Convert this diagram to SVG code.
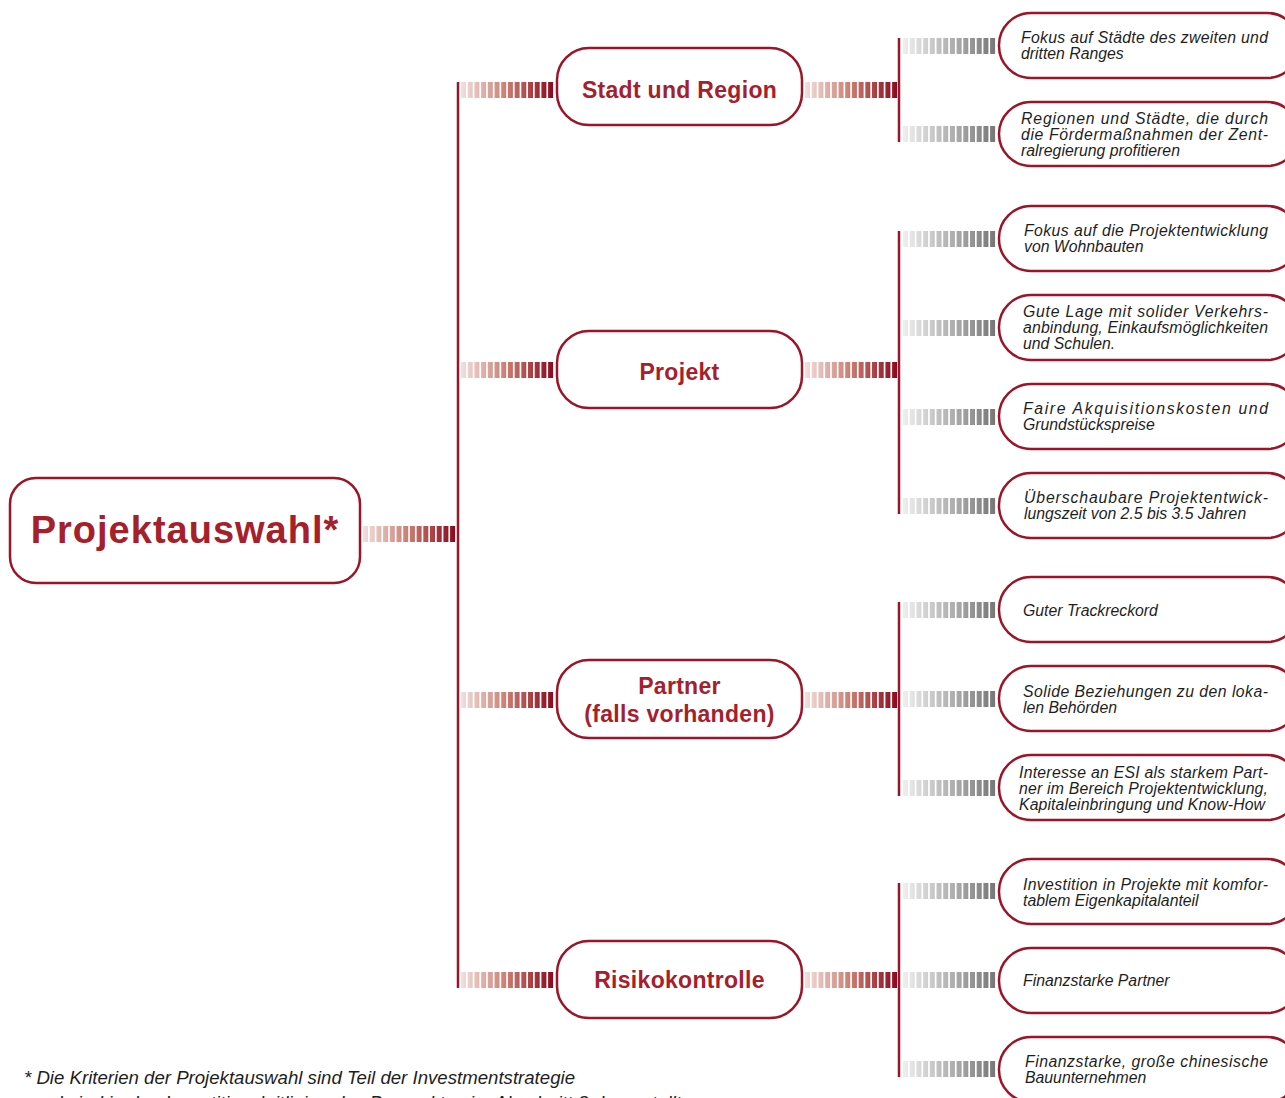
<svg xmlns="http://www.w3.org/2000/svg" xmlns:xlink="http://www.w3.org/1999/xlink" width="1285" height="1098" viewBox="0 0 1285 1098">
<style>
.box{fill:#fff;stroke:#9b1428;stroke-width:2.5}
.vline{stroke:#9b1428;stroke-width:2.5;fill:none}
.root{font-family:"Liberation Sans",Arial,sans-serif;font-weight:bold;font-size:38px;letter-spacing:1px;fill:#a6202c;text-anchor:middle}
.l1{font-family:"Liberation Sans",Arial,sans-serif;font-weight:bold;font-size:23px;letter-spacing:0.3px;fill:#a6202c;text-anchor:middle}
.leaf{font-family:"Liberation Sans",Arial,sans-serif;font-style:italic;font-size:15.8px;fill:#1e1e1e}
.foot{font-family:"Liberation Sans",Arial,sans-serif;font-style:italic;font-size:18.5px;fill:#1e1e1e}
</style>
<defs>
<linearGradient id="redG" x1="0" y1="0" x2="1" y2="0">
<stop offset="0" stop-color="#f2e0dc"/>
<stop offset="0.5" stop-color="#c97c70"/>
<stop offset="1" stop-color="#8c0a1e"/>
</linearGradient>
<linearGradient id="greyG" x1="0" y1="0" x2="1" y2="0">
<stop offset="0" stop-color="#efefef"/>
<stop offset="1" stop-color="#777777"/>
</linearGradient>
<path id="bars" d="M0,0h5v16h-5z m6.7,0h5v16h-5z m6.7,0h5v16h-5z m6.7,0h5v16h-5z m6.7,0h5v16h-5z m6.7,0h5v16h-5z m6.7,0h5v16h-5z m6.7,0h5v16h-5z m6.7,0h5v16h-5z m6.7,0h5v16h-5z m6.7,0h5v16h-5z m6.7,0h5v16h-5z m6.7,0h5v16h-5z m6.7,0h5v16h-5z"/>
</defs>
<rect width="1285" height="1098" fill="#fff"/>

<g id="connectors">
<use xlink:href="#bars" x="363" y="526" fill="url(#redG)"/>
<line class="vline" x1="458" y1="82" x2="458" y2="988"/>
<use xlink:href="#bars" x="461" y="82" fill="url(#redG)"/>
<use xlink:href="#bars" x="461" y="362" fill="url(#redG)"/>
<use xlink:href="#bars" x="461" y="692" fill="url(#redG)"/>
<use xlink:href="#bars" x="461" y="972" fill="url(#redG)"/>
<use xlink:href="#bars" x="805" y="82" fill="url(#redG)"/>
<use xlink:href="#bars" x="805" y="362" fill="url(#redG)"/>
<use xlink:href="#bars" x="805" y="692" fill="url(#redG)"/>
<use xlink:href="#bars" x="805" y="972" fill="url(#redG)"/>
<line class="vline" x1="899" y1="38" x2="899" y2="142"/>
<line class="vline" x1="899" y1="231" x2="899" y2="514"/>
<line class="vline" x1="899" y1="602" x2="899" y2="796"/>
<line class="vline" x1="899" y1="883" x2="899" y2="1077"/>
<use xlink:href="#bars" x="903" y="38" fill="url(#greyG)"/>
<use xlink:href="#bars" x="903" y="126" fill="url(#greyG)"/>
<use xlink:href="#bars" x="903" y="231" fill="url(#greyG)"/>
<use xlink:href="#bars" x="903" y="320" fill="url(#greyG)"/>
<use xlink:href="#bars" x="903" y="409" fill="url(#greyG)"/>
<use xlink:href="#bars" x="903" y="498" fill="url(#greyG)"/>
<use xlink:href="#bars" x="903" y="602" fill="url(#greyG)"/>
<use xlink:href="#bars" x="903" y="691" fill="url(#greyG)"/>
<use xlink:href="#bars" x="903" y="780" fill="url(#greyG)"/>
<use xlink:href="#bars" x="903" y="883" fill="url(#greyG)"/>
<use xlink:href="#bars" x="903" y="972" fill="url(#greyG)"/>
<use xlink:href="#bars" x="903" y="1061" fill="url(#greyG)"/>
</g>

<g id="root">
<rect class="box" x="10" y="478" width="350" height="105" rx="26"/>
<text class="root" x="185" y="543">Projektauswahl*</text>
</g>

<g id="stadt">
<rect class="box" x="557" y="48" width="245" height="77" rx="32"/>
<text class="l1" x="679.5" y="98">Stadt und Region</text>
</g>
<g id="projekt">
<rect class="box" x="557" y="331" width="245" height="77" rx="32"/>
<text class="l1" x="679.5" y="380">Projekt</text>
</g>
<g id="partner">
<rect class="box" x="557" y="660" width="245" height="78" rx="32"/>
<text class="l1" x="679.5" y="694">Partner</text>
<text class="l1" x="679.5" y="722">(falls vorhanden)</text>
</g>
<g id="risiko">
<rect class="box" x="557" y="941" width="245" height="77" rx="32"/>
<text class="l1" x="679.5" y="988">Risikokontrolle</text>
</g>

<g id="leaf1">
<rect class="box" x="999" y="13" width="300" height="65" rx="32"/>
<text class="leaf" x="1021" y="42.5" textLength="247" lengthAdjust="spacing">Fokus auf Städte des zweiten und</text>
<text class="leaf" x="1021" y="58.5">dritten Ranges</text>
</g>
<g id="leaf2">
<rect class="box" x="999" y="102" width="300" height="64" rx="32"/>
<text class="leaf" x="1021" y="123.5" textLength="247" lengthAdjust="spacing">Regionen und Städte, die durch</text>
<text class="leaf" x="1021" y="139.5" textLength="247" lengthAdjust="spacing">die Fördermaßnahmen der Zent-</text>
<text class="leaf" x="1021" y="155.5">ralregierung profitieren</text>
</g>
<g id="leaf3">
<rect class="box" x="999" y="206" width="300" height="65" rx="32"/>
<text class="leaf" x="1024" y="235.5" textLength="244" lengthAdjust="spacing">Fokus auf die Projektentwicklung</text>
<text class="leaf" x="1024" y="251.5">von Wohnbauten</text>
</g>
<g id="leaf4">
<rect class="box" x="999" y="295" width="300" height="65" rx="32"/>
<text class="leaf" x="1023" y="317" textLength="245" lengthAdjust="spacing">Gute Lage mit solider Verkehrs-</text>
<text class="leaf" x="1023" y="333" textLength="245" lengthAdjust="spacing">anbindung, Einkaufsmöglichkeiten</text>
<text class="leaf" x="1023" y="349">und Schulen.</text>
</g>
<g id="leaf5">
<rect class="box" x="999" y="384" width="300" height="65" rx="32"/>
<text class="leaf" x="1023" y="413.5" textLength="245" lengthAdjust="spacing">Faire Akquisitionskosten und</text>
<text class="leaf" x="1023" y="429.5">Grundstückspreise</text>
</g>
<g id="leaf6">
<rect class="box" x="999" y="473" width="300" height="65" rx="32"/>
<text class="leaf" x="1024" y="502.5" textLength="244" lengthAdjust="spacing">Überschaubare Projektentwick-</text>
<text class="leaf" x="1024" y="518.5">lungszeit von 2.5 bis 3.5 Jahren</text>
</g>
<g id="leaf7">
<rect class="box" x="999" y="577" width="300" height="65" rx="32"/>
<text class="leaf" x="1023" y="615.5">Guter Trackreckord</text>
</g>
<g id="leaf8">
<rect class="box" x="999" y="666" width="300" height="65" rx="32"/>
<text class="leaf" x="1023" y="696.5" textLength="245" lengthAdjust="spacing">Solide Beziehungen zu den loka-</text>
<text class="leaf" x="1023" y="712.5">len Behörden</text>
</g>
<g id="leaf9">
<rect class="box" x="999" y="755" width="300" height="65" rx="32"/>
<text class="leaf" x="1019" y="777.5" textLength="249" lengthAdjust="spacing">Interesse an ESI als starkem Part-</text>
<text class="leaf" x="1019" y="793.5" textLength="249" lengthAdjust="spacing">ner im Bereich Projektentwicklung,</text>
<text class="leaf" x="1019" y="809.5" textLength="246" lengthAdjust="spacing">Kapitaleinbringung und Know-How</text>
</g>
<g id="leaf10">
<rect class="box" x="999" y="859" width="300" height="65" rx="32"/>
<text class="leaf" x="1023" y="889.5" textLength="245" lengthAdjust="spacing">Investition in Projekte mit komfor-</text>
<text class="leaf" x="1023" y="905.5">tablem Eigenkapitalanteil</text>
</g>
<g id="leaf11">
<rect class="box" x="999" y="948" width="300" height="65" rx="32"/>
<text class="leaf" x="1023" y="986">Finanzstarke Partner</text>
</g>
<g id="leaf12">
<rect class="box" x="999" y="1037" width="300" height="65" rx="32"/>
<text class="leaf" x="1025" y="1067" textLength="243" lengthAdjust="spacing">Finanzstarke, große chinesische</text>
<text class="leaf" x="1025" y="1083">Bauunternehmen</text>
</g>

<g id="footnote">
<text class="foot" x="24" y="1084" textLength="551" lengthAdjust="spacingAndGlyphs">* Die Kriterien der Projektauswahl sind Teil der Investmentstrategie</text>
<text class="foot" x="31" y="1109" textLength="650" lengthAdjust="spacingAndGlyphs">und sind in den Investitionsleitlinien des Prospektes im Abschnitt 3 dargestellt</text>
</g>
</svg>
